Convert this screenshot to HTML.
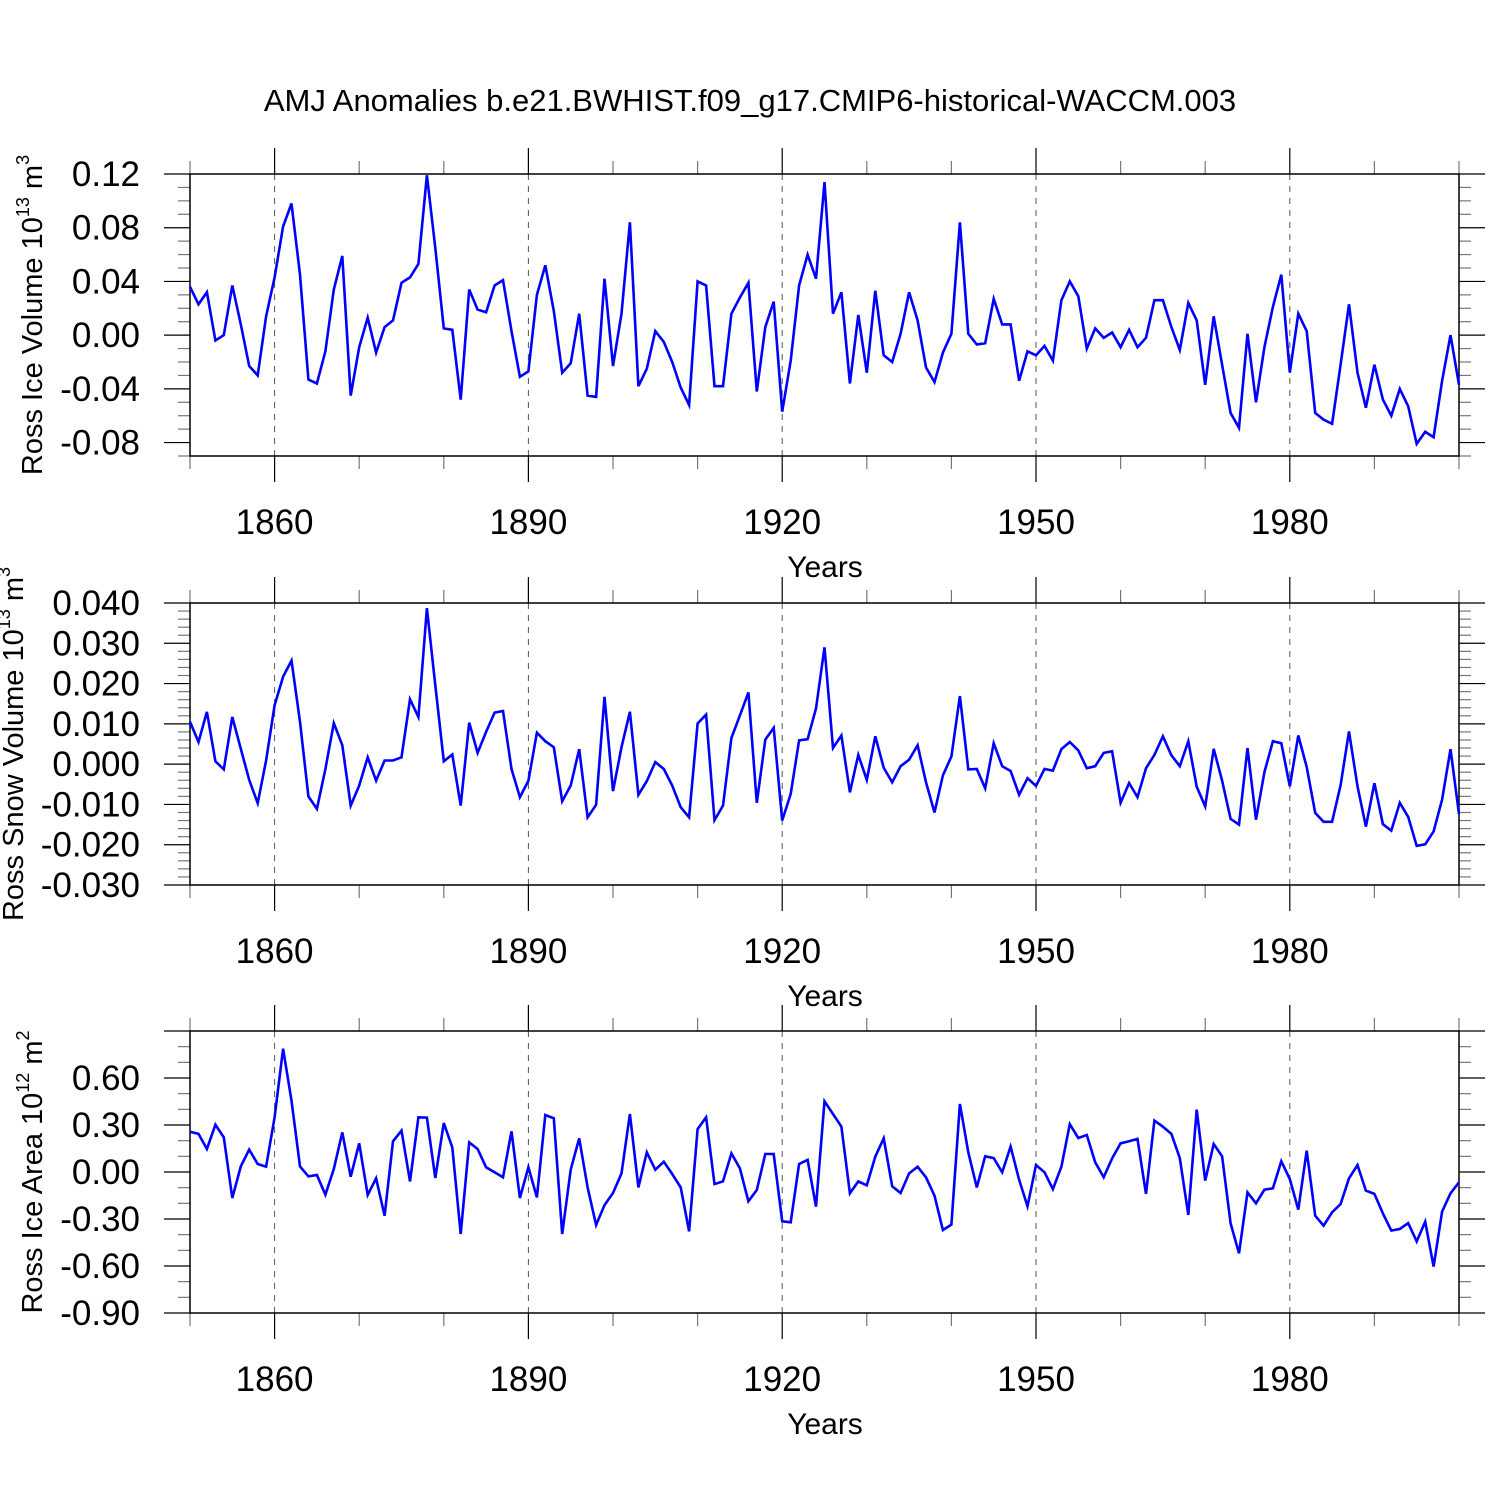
<!DOCTYPE html>
<html><head><meta charset="utf-8">
<style>
html,body{margin:0;padding:0;background:#fff;}
svg{display:block;font-family:"Liberation Sans",Arial,sans-serif;}
</style></head>
<body>
<svg id="chart" width="1500" height="1500" viewBox="0 0 1500 1500">
<text x="750" y="111" text-anchor="middle" font-size="31">AMJ Anomalies b.e21.BWHIST.f09_g17.CMIP6-historical-WACCM.003</text>
</svg>
<script>
const years = [];
for (let y = 1850; y <= 2000; y++) years.push(y);
const xTickLabels = [1860, 1890, 1920, 1950, 1980];

const iceVolume = [0.036,0.023,0.032,-0.004,0.000,0.037,0.008,-0.023,-0.030,0.014,
0.043,0.081,0.098,0.045,-0.033,-0.036,-0.012,0.034,0.059,-0.045,
-0.009,0.013,-0.013,0.006,0.011,0.039,0.043,0.053,0.119,0.065,
0.005,0.004,-0.048,0.034,0.019,0.017,0.037,0.041,0.003,-0.031,
-0.027,0.030,0.052,0.018,-0.028,-0.021,0.016,-0.045,-0.046,0.042,
-0.023,0.016,0.084,-0.038,-0.025,0.003,-0.005,-0.020,-0.039,-0.052,
0.040,0.037,-0.038,-0.038,0.016,0.028,0.039,-0.042,0.006,0.025,
-0.057,-0.019,0.037,0.060,0.042,0.114,0.016,0.032,-0.036,0.015,
-0.028,0.033,-0.015,-0.020,0.001,0.032,0.011,-0.024,-0.035,-0.013,
0.001,0.084,0.001,-0.007,-0.006,0.027,0.008,0.008,-0.034,-0.012,
-0.015,-0.008,-0.019,0.026,0.040,0.029,-0.010,0.005,-0.002,0.002,
-0.009,0.004,-0.009,-0.002,0.026,0.026,0.006,-0.011,0.024,0.011,
-0.037,0.014,-0.022,-0.058,-0.069,0.001,-0.050,-0.009,0.021,0.045,
-0.028,0.016,0.003,-0.058,-0.063,-0.066,-0.022,0.023,-0.028,-0.054,
-0.022,-0.048,-0.060,-0.040,-0.053,-0.081,-0.072,-0.076,-0.034,0.000,-0.037];

const snowVolume = [10.5,5.5,13.0,0.7,-1.3,11.7,3.8,-3.9,-9.7,0.9,
14.6,21.7,25.7,10.5,-8.0,-11.1,-1.2,10.2,4.7,-10.3,
-5.3,1.7,-4.1,0.9,0.9,1.7,16.1,11.7,38.7,19.6,
0.7,2.4,-10.3,10.3,2.8,8.0,12.8,13.2,-1.2,-8.2,
-4.1,7.8,5.7,4.2,-9.2,-5.3,3.7,-13.2,-10.1,16.7,
-6.7,4.2,13.0,-7.6,-4.2,0.5,-1.2,-5.3,-10.7,-13.2,
10.1,12.3,-13.9,-10.3,6.5,12.1,17.8,-9.6,6.1,9.0,
-14.0,-7.4,5.9,6.2,13.8,29.0,4.0,7.1,-7.0,2.3,
-3.9,6.9,-0.9,-4.5,-0.5,1.1,4.7,-4.5,-12.0,-2.8,
1.9,16.9,-1.3,-1.2,-6.0,5.2,-0.5,-1.7,-7.6,-3.5,
-5.4,-1.2,-1.6,3.7,5.5,3.4,-1.0,-0.5,2.8,3.2,
-9.6,-4.7,-8.2,-1.0,2.3,6.9,2.2,-0.5,5.7,-5.6,
-10.5,3.8,-4.1,-13.6,-15.0,4.0,-13.8,-2.0,5.7,5.2,
-5.5,7.1,-0.7,-12.1,-14.3,-14.3,-5.2,8.1,-5.5,-15.5,
-4.7,-14.9,-16.5,-9.6,-13.1,-20.3,-19.9,-16.7,-8.8,3.7,-12.4].map(v => v / 1000);

const iceArea = [0.257,0.243,0.147,0.302,0.221,-0.166,0.036,0.143,0.051,0.034,
0.349,0.787,0.455,0.036,-0.028,-0.019,-0.145,0.019,0.253,-0.030,
0.183,-0.147,-0.040,-0.279,0.196,0.264,-0.060,0.349,0.347,-0.038,
0.313,0.157,-0.396,0.189,0.147,0.030,-0.002,-0.034,0.260,-0.166,
0.030,-0.162,0.364,0.343,-0.396,0.015,0.215,-0.098,-0.338,-0.211,
-0.134,-0.009,0.370,-0.098,0.126,0.015,0.066,-0.013,-0.098,-0.379,
0.274,0.349,-0.077,-0.060,0.119,0.023,-0.187,-0.115,0.115,0.115,
-0.315,-0.321,0.051,0.077,-0.221,0.451,0.370,0.289,-0.136,-0.060,
-0.085,0.098,0.215,-0.091,-0.134,-0.009,0.034,-0.034,-0.151,-0.370,
-0.336,0.434,0.126,-0.098,0.100,0.089,-0.002,0.162,-0.049,-0.219,
0.045,-0.002,-0.109,0.034,0.306,0.217,0.236,0.062,-0.034,0.087,
0.183,0.196,0.211,-0.140,0.328,0.289,0.243,0.089,-0.274,0.398,
-0.055,0.179,0.100,-0.328,-0.519,-0.130,-0.200,-0.113,-0.104,0.068,
-0.045,-0.240,0.136,-0.279,-0.343,-0.257,-0.204,-0.040,0.045,-0.119,
-0.140,-0.264,-0.374,-0.364,-0.326,-0.443,-0.317,-0.604,-0.253,-0.136,-0.066];

const p1Ticks = ["0.12","0.08","0.04","0.00","-0.04","-0.08"];
const p2Ticks = ["0.040","0.030","0.020","0.010","0.000","-0.010","-0.020","-0.030"];
const p3Ticks = ["0.60","0.30","0.00","-0.30","-0.60","-0.90"];

const NS = "http://www.w3.org/2000/svg";
const svg = document.getElementById('chart');
const L = 190, R = 1459;
function xs(yr){ return L + (yr - 1850) / 150 * (R - L); }
function mk(tag, attrs, parent){
  const e = document.createElementNS(NS, tag);
  for (const k in attrs) e.setAttribute(k, attrs[k]);
  (parent || svg).appendChild(e);
  return e;
}

function panel(cfg){
  const g = mk('g', {});
  
  
  const ys = v => cfg.top + (cfg.vmax - v) / (cfg.vmax - cfg.vmin) * (cfg.bottom - cfg.top);
  xTickLabels.forEach(yr => {
    const l = mk('line', {x1: xs(yr), x2: xs(yr), y1: cfg.top, y2: cfg.bottom, stroke: '#555', 'stroke-width': 1, 'stroke-dasharray': '6,6'}, g);
    
    
  });
  for (let yr = 1850; yr <= 2000; yr += 10) {
    const major = (yr - 1860) % 30 === 0;
    const len = major ? 26 : 13;
    const col = major ? '#000' : '#777';
    mk('line', {x1: xs(yr), x2: xs(yr), y1: cfg.top - len, y2: cfg.top, stroke: col, 'stroke-width': 1.2}, g);
    mk('line', {x1: xs(yr), x2: xs(yr), y1: cfg.bottom, y2: cfg.bottom + len, stroke: col, 'stroke-width': 1.2}, g);
  }
  const nMinor = Math.round((cfg.vmax - cfg.vmin) / cfg.minor);
  for (let i = 0; i <= nMinor; i++) {
    const v = cfg.vmin + i * cfg.minor;
    const y = ys(v);
    const isMajor = Math.abs(((v - cfg.majorBase) / cfg.major) - Math.round((v - cfg.majorBase) / cfg.major)) < 1e-6;
    const len = isMajor ? 26 : 12;
    const col = isMajor ? '#000' : '#777';
    mk('line', {x1: L - len, x2: L, y1: y, y2: y, stroke: col, 'stroke-width': 1.2}, g);
    mk('line', {x1: R, x2: R + len, y1: y, y2: y, stroke: col, 'stroke-width': 1.2}, g);
  }
  cfg.ticks.forEach(t => {
    const tx = mk('text', {x: 140, y: ys(parseFloat(t)) + 12, 'text-anchor': 'end', 'font-size': 35}, g);
    tx.textContent = t;
    
    
  });
  xTickLabels.forEach(yr => {
    const tx = mk('text', {x: xs(yr), y: cfg.bottom + 78, 'text-anchor': 'middle', 'font-size': 35}, g);
    tx.textContent = yr;
    
    
  });
  const xt = mk('text', {x: 825, y: cfg.bottom + 121, 'text-anchor': 'middle', 'font-size': 30}, g);
  xt.textContent = 'Years';
  
  
  const cy = (cfg.top + cfg.bottom) / 2;
  const yt = mk('text', {x: 0, y: 0, 'text-anchor': 'middle', 'font-size': 29, transform: `translate(${cfg.titleX},${cy}) rotate(-90)`}, g);
  
  
  yt.appendChild(document.createTextNode(cfg.ylabel + ' 10'));
  const s1 = document.createElementNS(NS, 'tspan');
  s1.setAttribute('dy', '-13'); s1.setAttribute('font-size', '18'); s1.textContent = cfg.exp;
  yt.appendChild(s1);
  const s2 = document.createElementNS(NS, 'tspan');
  s2.setAttribute('dy', '13'); s2.textContent = ' m';
  yt.appendChild(s2);
  const s3 = document.createElementNS(NS, 'tspan');
  s3.setAttribute('dy', '-13'); s3.setAttribute('font-size', '18'); s3.textContent = cfg.unitExp;
  yt.appendChild(s3);
  const box = mk('rect', {x: L, y: cfg.top, width: R - L, height: cfg.bottom - cfg.top, fill: 'none', stroke: '#000', 'stroke-width': 1.5}, g);
  
  
  const d = cfg.data.map((v, i) => (i ? 'L' : 'M') + xs(years[i]).toFixed(1) + ',' + ys(v).toFixed(1)).join('');
  const p = mk('path', {d: d, fill: 'none', stroke: '#0000ff', 'stroke-width': 2.6, 'stroke-linejoin': 'miter'}, g);
  
  
}

panel({name: 'ross-ice-volume-panel', series: 'ice-volume-line', top: 174, bottom: 456, vmax: 0.12, vmin: -0.09,
  minor: 0.01, major: 0.04, majorBase: 0.0, ticks: p1Ticks, data: iceVolume, titleX: 42,
  ylabel: 'Ross Ice Volume', exp: '13', unitExp: '3'});
panel({name: 'ross-snow-volume-panel', series: 'snow-volume-line', top: 603, bottom: 885, vmax: 0.04, vmin: -0.03,
  minor: 0.002, major: 0.01, majorBase: 0.0, ticks: p2Ticks, data: snowVolume, titleX: 23,
  ylabel: 'Ross Snow Volume', exp: '13', unitExp: '3'});
panel({name: 'ross-ice-area-panel', series: 'ice-area-line', top: 1031, bottom: 1313, vmax: 0.9, vmin: -0.9,
  minor: 0.1, major: 0.3, majorBase: 0.0, ticks: p3Ticks, data: iceArea, titleX: 42,
  ylabel: 'Ross Ice Area', exp: '12', unitExp: '2'});
</script>
</body></html>
